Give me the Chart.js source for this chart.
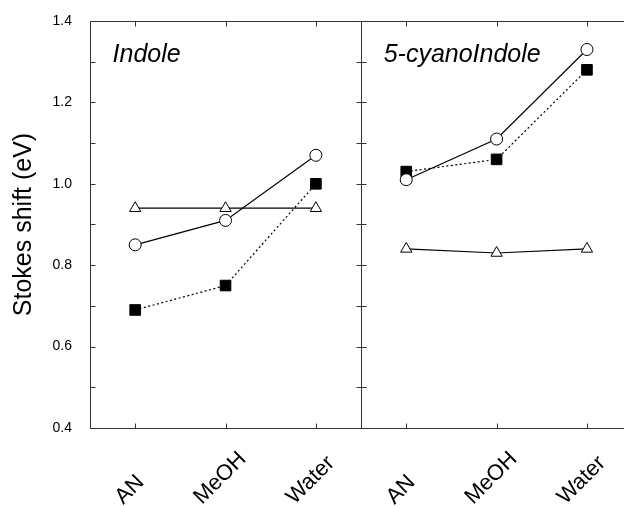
<!DOCTYPE html>
<html>
<head>
<meta charset="utf-8">
<script src="https://cdn.jsdelivr.net/npm/chart.js@4.4.1/dist/chart.umd.min.js"></script>
<style>
  html, body { margin: 0; padding: 0; background: #fff; }
  #wrap { width: 624px; height: 506px; }
</style>
</head>
<body>
<div id="wrap"><canvas id="chart" width="624" height="506"></canvas></div>
<script>
// Solvents on the x axis (repeated in each panel)
const solvents = ['AN', 'MeOH', 'Water'];
const panels = ['Indole', '5-cyanoIndole'];

// Stokes shift (eV)
const indoleCircle = [0.85, 0.91, 1.07];
const indoleSquare = [0.69, 0.75, 1.00];
const indoleTriangle = [0.94, 0.94, 0.94];
const cyanoCircle = [1.01, 1.11, 1.33];
const cyanoSquare = [1.03, 1.06, 1.28];
const cyanoTriangle = [0.84, 0.83, 0.84];

const FONT = '"Liberation Sans", Arial, Helvetica, sans-serif';

// panel index -> x offset, so both panels share one x scale
function toPoints(values, panel) {
    return values.map((v, i) => ({ x: i + panel * 3, y: v }));
}

function circleSet(values, panel) {
    return {
        data: toPoints(values, panel),
        borderColor: '#000',
        borderWidth: 1.2,
        pointStyle: 'circle',
        pointRadius: 6,
        pointBackgroundColor: '#fff',
        pointBorderColor: '#000',
        pointBorderWidth: 1
    };
}

function squareSet(values, panel) {
    return {
        data: toPoints(values, panel),
        borderColor: '#000',
        borderWidth: 1.2,
        borderDash: [2, 2.5],
        pointStyle: 'rect',
        pointRadius: 7.5,
        pointBackgroundColor: '#000',
        pointBorderColor: '#000',
        pointBorderWidth: 1
    };
}

function triangleSet(values, panel) {
    return {
        data: toPoints(values, panel),
        borderColor: '#000',
        borderWidth: 1.2,
        pointStyle: 'triangle',
        pointRadius: 6.5,
        pointBackgroundColor: '#fff',
        pointBorderColor: '#000',
        pointBorderWidth: 1
    };
}

// frame with inward ticks, panel divider, panel names and slanted solvent labels
const framePlugin = {
    id: 'frame',
    beforeDatasetsDraw(chart) {
        const { ctx, chartArea: a, scales: { x, y } } = chart;
        const L = Math.round(a.left) + 0.5;
        const T = Math.round(a.top) + 0.5;
        const B = Math.round(a.bottom) + 0.5;
        const R = a.right;
        const D = Math.round(x.getPixelForValue(2.5)) + 0.5;
        const tick = 5;

        ctx.save();
        ctx.strokeStyle = '#333';
        ctx.lineWidth = 1;
        ctx.beginPath();
        ctx.moveTo(L, T); ctx.lineTo(R, T);
        ctx.moveTo(L, B); ctx.lineTo(R, B);
        ctx.moveTo(L, T); ctx.lineTo(L, B);
        ctx.moveTo(D, T); ctx.lineTo(D, B);

        for (let k = 4; k <= 14; k++) {
            const py = Math.round(y.getPixelForValue(k / 10)) + 0.5;
            ctx.moveTo(L, py); ctx.lineTo(L + tick, py);
            ctx.moveTo(D - tick, py); ctx.lineTo(D + tick, py);
        }
        x.ticks.forEach(t => {
            const px = Math.round(x.getPixelForValue(t.value)) + 0.5;
            ctx.moveTo(px, T); ctx.lineTo(px, T + tick);
            ctx.moveTo(px, B); ctx.lineTo(px, B - tick);
        });
        ctx.stroke();

        ctx.fillStyle = '#000';
        ctx.font = 'italic 25px ' + FONT;
        ctx.textBaseline = 'alphabetic';
        panels.forEach((name, p) => {
            ctx.fillText(name, x.getPixelForValue(p * 3 - 0.25), y.getPixelForValue(1.30));
        });

        // solvent labels: 45 degrees, bottom of each label on one line
        ctx.font = '22px ' + FONT;
        x.ticks.forEach(t => {
            const label = solvents[t.value % 3];
            const w = ctx.measureText(label).width;
            const sx = x.getPixelForValue(t.value) - 1 - w * Math.SQRT1_2 / 2;
            const sy = a.bottom + 77;
            ctx.save();
            ctx.translate(sx, sy);
            ctx.rotate(-Math.PI / 4);
            ctx.textAlign = 'left';
            ctx.fillText(label, 0, 0);
            ctx.restore();
        });
        ctx.restore();
    }
};

new Chart(document.getElementById('chart'), {
    type: 'line',
    data: {
        datasets: [
            circleSet(indoleCircle, 0),
            circleSet(cyanoCircle, 1),
            squareSet(indoleSquare, 0),
            squareSet(cyanoSquare, 1),
            triangleSet(indoleTriangle, 0),
            triangleSet(cyanoTriangle, 1)
        ]
    },
    options: {
        responsive: false,
        animation: false,
        layout: {
            autoPadding: false,
            padding: { top: 21, right: 0, left: 0, bottom: 0 }
        },
        scales: {
            x: {
                type: 'linear',
                min: -0.5,
                max: 5.41,
                grid: { display: false, drawTicks: false },
                border: { display: false },
                afterBuildTicks(scale) {
                    scale.ticks = [0, 1, 2, 3, 4, 5].map(v => ({ value: v }));
                },
                afterFit(scale) {
                    scale.height = 78;
                    scale.paddingLeft = 0;
                    scale.paddingRight = 0;
                },
                ticks: { display: false }
            },
            y: {
                min: 0.4,
                max: 1.4,
                grid: { display: false, drawTicks: false },
                border: { display: false },
                afterFit(scale) {
                    scale.width = 90;
                    scale.paddingTop = 0;
                    scale.paddingBottom = 0;
                },
                ticks: {
                    stepSize: 0.2,
                    padding: 18,
                    color: '#000',
                    font: { family: FONT, size: 14 },
                    callback: value => value.toFixed(1)
                },
                title: {
                    display: true,
                    text: 'Stokes shift (eV)',
                    color: '#000',
                    font: { family: FONT, size: 25 },
                    padding: { top: 9, bottom: 0 }
                }
            }
        },
        plugins: {
            legend: { display: false },
            tooltip: { enabled: false }
        }
    },
    plugins: [framePlugin]
});
</script>
</body>
</html>
